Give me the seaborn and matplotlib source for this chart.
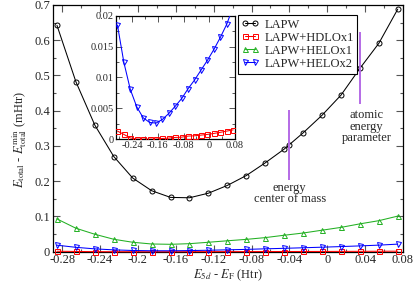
import numpy as np
import pandas as pd
import matplotlib
matplotlib.use("Agg")
import matplotlib.pyplot as plt
from matplotlib.ticker import MultipleLocator, FixedLocator
import seaborn as sns

# ---------------- data ----------------
x_grid = [-0.2855, -0.2655, -0.2455, -0.2255, -0.2055, -0.1855, -0.1655, -0.1455,
          -0.1255, -0.1055, -0.0855, -0.0655, -0.0455, -0.0255, -0.0055, 0.0145,
          0.0345, 0.0545, 0.0745]

lapw_x = x_grid[:13] + [-0.0403] + x_grid[13:]
lapw_y = [0.642, 0.482, 0.359, 0.270, 0.209, 0.173, 0.154, 0.153, 0.166, 0.188,
          0.216, 0.252, 0.291, 0.303, 0.337, 0.387, 0.444, 0.520, 0.591, 0.688]

hdlo_y = [0.0013, 0.00076, 0.0002, 0.0, 0.0, 0.0, 0.0, 0.0001, 0.00017, 0.00027,
          0.00032, 0.00049, 0.00054, 0.00065, 0.00076, 0.00092, 0.0011, 0.0013, 0.0015]

helo1_y = [0.093, 0.0666, 0.0495, 0.0353, 0.0268, 0.0219, 0.021, 0.0228, 0.0268, 0.031,
           0.035, 0.040, 0.0467, 0.053, 0.061, 0.069, 0.079, 0.088, 0.101]

helo2_y = [0.0185, 0.01244, 0.00806, 0.00524, 0.00346, 0.0027, 0.0026, 0.0032, 0.00417,
           0.00535, 0.0066, 0.0082, 0.0096, 0.0112, 0.0128, 0.01455, 0.0165, 0.01865, 0.0215]

series_names = ["LAPW", "LAPW+HDLOx1", "LAPW+HELOx1", "LAPW+HELOx2"]

# reference energies (vertical markers)
e_cm_x = -0.0405
e_cm_y = [0.204, 0.403]
e_at_x = 0.035
e_at_y = [0.420, 0.623]

# ---------------- style ----------------
sns.set_theme(style="ticks")
plt.rcParams["font.family"] = ["Liberation Serif", "DejaVu Serif"]
plt.rcParams["mathtext.fontset"] = "stix"
plt.rcParams["axes.unicode_minus"] = False

colors = ["#000000", "#ff0000", "#22b022", "#0000ff"]
markers = ["o", "s", "^", "v"]
purple = "#b46ae6"

df_main = [
    pd.DataFrame({"x": lapw_x, "y": lapw_y}),
    pd.DataFrame({"x": x_grid, "y": hdlo_y}),
    pd.DataFrame({"x": x_grid, "y": helo1_y}),
    pd.DataFrame({"x": x_grid, "y": helo2_y}),
]

fmt = plt.FuncFormatter(lambda v, p: f"{v:g}" if abs(v) > 1e-9 else "0")

fig = plt.figure(figsize=(4.15, 2.88), dpi=100)
ax = fig.add_axes([0.127, 0.126, 0.844, 0.857])

for d, name, c, m in zip(df_main, series_names, colors, markers):
    sns.lineplot(data=d, x="x", y="y", ax=ax, color=c, marker=m, label=name,
                 markersize=3.6, markerfacecolor="none", markeredgecolor=c,
                 markeredgewidth=0.7, linewidth=0.75, zorder=3, clip_on=False)

ax.vlines([e_cm_x], e_cm_y[0], e_cm_y[1], color=purple, linewidth=1.4, zorder=4)
ax.vlines([e_at_x], e_at_y[0], e_at_y[1], color=purple, linewidth=1.4, zorder=4)

ax.text(0.0417, 0.355, "atomic\nenergy\nparameter", ha="center", va="center",
        fontsize=9, linespacing=0.9)
ax.text(-0.0396, 0.165, "energy\ncenter of mass", ha="center", va="center",
        fontsize=9, linespacing=0.9)

ax.set_xlim(-0.29, 0.08)
ax.set_ylim(0, 0.7)
ax.xaxis.set_major_locator(MultipleLocator(0.04))
ax.xaxis.set_minor_locator(MultipleLocator(0.02))
ax.yaxis.set_major_locator(MultipleLocator(0.1))
ax.yaxis.set_minor_locator(MultipleLocator(0.05))
ax.xaxis.set_major_formatter(fmt)
ax.yaxis.set_major_formatter(fmt)
ax.tick_params(which="both", direction="in", top=True, right=True, labelsize=9,
               color="#555555", width=0.8, pad=2)
ax.tick_params(which="major", length=5)
ax.tick_params(which="minor", length=2.5)
for s in ax.spines.values():
    s.set_linewidth(0.9)
    s.set_color("black")

ax.set_xlabel(r"$E_{5d}$ - $E_{\rm F}$ (Htr)", fontsize=9, labelpad=1)
ax.set_ylabel(r"$E_{\rm total}$ - $E_{\rm total}^{\rm min}$ (mHtr)", fontsize=9)
ax.yaxis.set_label_coords(-0.068, 0.453)

leg = ax.legend(loc="upper left", bbox_to_anchor=(0.529, 0.959), borderaxespad=0,
                fontsize=9, frameon=True, fancybox=False, edgecolor="black",
                handlelength=1.4, handletextpad=0.4, labelspacing=0.08,
                borderpad=0.3, numpoints=2, framealpha=1)
leg.get_frame().set_linewidth(0.8)

# ---------------- inset ----------------
axi = fig.add_axes([0.2795, 0.517, 0.2867, 0.428])
axi.set_facecolor("white")
for d, c, m in zip(df_main[1::2], [colors[1], colors[3]], [markers[1], markers[3]]):
    sns.lineplot(data=d, x="x", y="y", ax=axi, color=c, marker=m, legend=False,
                 markersize=3.6, markerfacecolor="none", markeredgecolor=c,
                 markeredgewidth=0.7, linewidth=0.75, zorder=3)
axi.set_xlim(-0.29, 0.08)
axi.set_ylim(0, 0.02)
axi.xaxis.set_major_locator(FixedLocator([-0.24, -0.16, -0.08, 0.0, 0.08]))
axi.xaxis.set_minor_locator(MultipleLocator(0.04))
axi.yaxis.set_major_locator(MultipleLocator(0.005))
axi.yaxis.set_minor_locator(MultipleLocator(0.0025))
axi.xaxis.set_major_formatter(fmt)
axi.yaxis.set_major_formatter(fmt)
axi.tick_params(which="both", direction="in", top=True, right=True, labelsize=7.5,
                color="#555555", width=0.7, pad=1.5)
axi.tick_params(which="major", length=4)
axi.tick_params(which="minor", length=2.5)
axi.set_xlabel("")
axi.set_ylabel("")
for s in axi.spines.values():
    s.set_linewidth(0.9)
    s.set_color("black")

fig.savefig("out.png", dpi=100)
